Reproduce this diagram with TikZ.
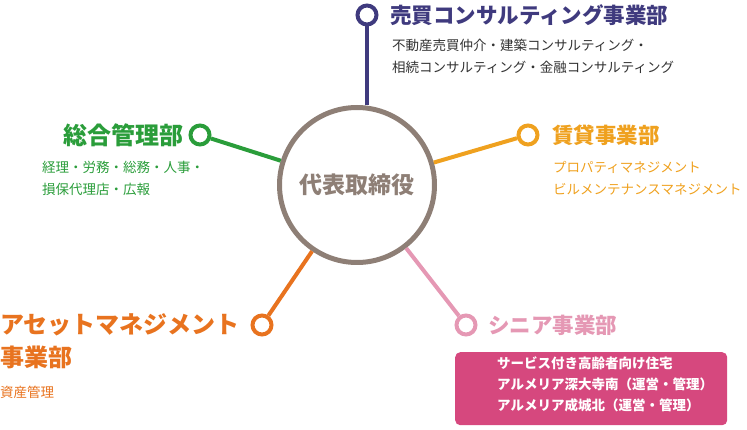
\documentclass[tikz,border=0pt]{standalone}
\usepackage{fontspec}
\setmainfont{Noto Sans CJK JP}
\usetikzlibrary{positioning}
\definecolor{boss}{HTML}{8E7F76}
\definecolor{purp}{HTML}{3F3A7E}
\definecolor{grn}{HTML}{2A9D3A}
\definecolor{yel}{HTML}{EFA11F}
\definecolor{org}{HTML}{E8731F}
\definecolor{pnk}{HTML}{E598B4}
\definecolor{box}{HTML}{D6487E}
\tikzset{
  ring/.style={circle, draw, line width=4pt, minimum size=19pt, inner sep=0pt},
  title/.style={font=\fontsize{21.5}{24}\selectfont\bfseries, inner sep=0pt},
  bigtitle/.style={font=\fontsize{24}{28}\selectfont\bfseries, inner sep=0pt},
  sub/.style={font=\fontsize{13.5}{22}\selectfont, align=left, inner sep=0pt}
}
\begin{document}
\begin{tikzpicture}[x=1pt, y=-1pt]
\useasboundingbox (0,0) rectangle (747,430);
\node[circle, draw=boss, line width=5pt, minimum size=155pt] (C) at (357,185) {};
\node[text=boss, font=\fontsize{23}{26}\selectfont\bfseries] (CT) at (C) {代表取締役};

\node[ring, draw=purp] (P) at (367,15) {};
\node[ring, draw=grn]  (G) at (200,135) {};
\node[ring, draw=yel]  (Y) at (528,135) {};
\node[ring, draw=org]  (O) at (262,325) {};
\node[ring, draw=pnk]  (K) at (466,325) {};

\draw[purp, line width=4pt] (P) -- (P |- C.north);
\draw[grn, line width=4pt]  (G) -- (C);
\draw[yel, line width=4pt]  (Y) -- (C);
\draw[org, line width=4pt]  (O) -- (C);
\draw[pnk, line width=4pt]  (K) -- (C);

\node[title, text=purp, anchor=west] (PT) at (390,15) {売買コンサルティング事業部};
\node[sub, text=black!80, anchor=north west] (PS) at (392,39) {不動産売買仲介・建築コンサルティング・\\相続コンサルティング・金融コンサルティング};

\node[bigtitle, text=grn, anchor=east] (GT) at (184,135) {総合管理部};
\node[sub, text=grn, anchor=north west] (GS) at (42,161) {経理・労務・総務・人事・\\損保代理店・広報};

\node[title, text=yel, anchor=west] (YT) at (552,135) {賃貸事業部};
\node[sub, text=yel, anchor=north west] (YS) at (553,161) {プロパティマネジメント\\ビルメンテナンスマネジメント};

\node[bigtitle, text=org, anchor=west] (OT) at (0,325) {アセットマネジメント};
\node[bigtitle, text=org, anchor=west] (OT2) at (0,357) {事業部};
\node[sub, text=org, anchor=west] (OS) at (0,392) {資産管理};

\node[title, text=pnk, anchor=west] (KT) at (488,325) {シニア事業部};
\node[fill=box, rounded corners=5pt, minimum width=272pt, minimum height=73pt, anchor=north west] (KB) at (455,352) {};
\node[sub, text=white, font=\fontsize{13.5}{21}\selectfont\bfseries, anchor=north west] (KS) at (497,357) {サービス付き高齢者向け住宅\\アルメリア深大寺南（運営・管理）\\アルメリア成城北（運営・管理）};
\end{tikzpicture}
\end{document}
